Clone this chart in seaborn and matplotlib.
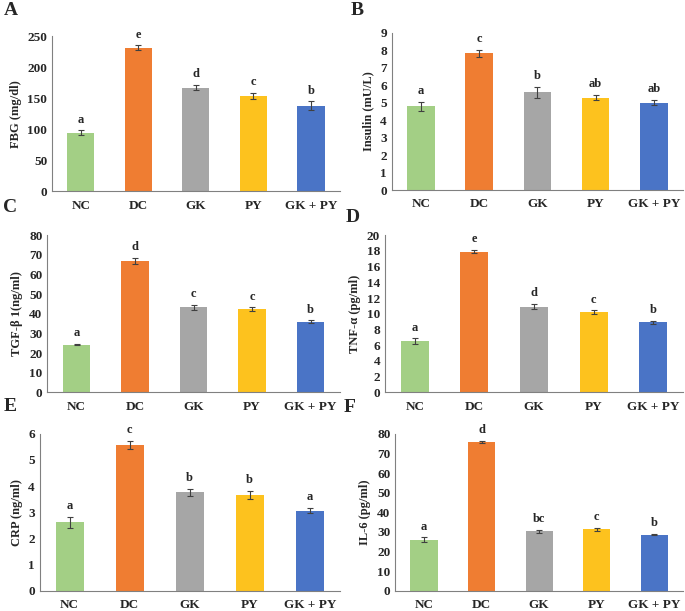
import numpy as np
import pandas as pd
import matplotlib
matplotlib.use("Agg")
import matplotlib.pyplot as plt
import seaborn as sns

# groups
groups = ["NC", "DC", "GK", "PY", "GK + PY"]
bar_colors = ["#a3cf85", "#ef7d32", "#a6a6a6", "#fdc21e", "#4a74c6"]

# panel values
fbg = [94, 231, 167, 154, 138]
fbg_err = [4, 4, 4, 5, 7]
fbg_sig = ["a", "e", "d", "c", "b"]

insulin = [4.8, 7.85, 5.6, 5.3, 5.0]
insulin_err = [0.25, 0.2, 0.3, 0.15, 0.15]
insulin_sig = ["a", "c", "b", "ab", "ab"]

tgf = [24.3, 67, 43.3, 42.2, 36]
tgf_err = [0.4, 1.5, 1.2, 1.0, 0.6]
tgf_sig = ["a", "d", "c", "c", "b"]

tnf = [6.5, 17.9, 10.9, 10.2, 8.9]
tnf_err = [0.35, 0.2, 0.35, 0.25, 0.15]
tnf_sig = ["a", "e", "d", "c", "b"]

crp = [2.62, 5.57, 3.76, 3.66, 3.06]
crp_err = [0.2, 0.15, 0.13, 0.17, 0.1]
crp_sig = ["a", "c", "b", "b", "a"]

il6 = [26, 75.7, 30.3, 31.3, 28.7]
il6_err = [1.2, 0.6, 0.6, 0.7, 0.5]
il6_sig = ["a", "d", "bc", "c", "b"]

sns.set_style("white")
plt.rcParams["font.family"] = ["Liberation Serif", "DejaVu Serif"]
plt.rcParams["font.weight"] = "bold"

fig = plt.figure(figsize=(6.85, 6.11), dpi=100)

# panel: letter, values, errors, letters, ylabel, ymax, ystep, axes rect, letter pos
panels = [
    ("A", fbg, fbg_err, fbg_sig, "FBG (mg/dl)", 250, 50, [0.076, 0.687, 0.420, 0.254], (0.006, 0.982)),
    ("B", insulin, insulin_err, insulin_sig, "Insulin (mU/L)", 9, 1, [0.572, 0.689, 0.425, 0.257], (0.512, 0.983)),
    ("C", tgf, tgf_err, tgf_sig, "TGF-β 1(ng/ml)", 80, 10, [0.069, 0.358, 0.427, 0.257], (0.004, 0.660)),
    ("D", tnf, tnf_err, tnf_sig, "TNF-α (pg/ml)", 20, 2, [0.562, 0.358, 0.435, 0.257], (0.504, 0.644)),
    ("E", crp, crp_err, crp_sig, "CRP (ng/ml)", 6, 1, [0.058, 0.033, 0.438, 0.257], (0.006, 0.335)),
    ("F", il6, il6_err, il6_sig, "IL-6 (pg/ml)", 80, 10, [0.577, 0.033, 0.420, 0.257], (0.502, 0.333)),
]

for letter, vals, errs, sig, ylab, ymax, ystep, rect, lpos in panels:
    ax = fig.add_axes(rect)
    df = pd.DataFrame({"group": groups, "value": vals})
    sns.barplot(data=df, x="group", y="value", hue="group", palette=bar_colors,
                saturation=1, width=0.47, errorbar=None, legend=False, ax=ax,
                edgecolor="none")
    ax.errorbar(range(len(groups)), vals, yerr=errs, fmt="none", ecolor="#404040",
                elinewidth=0.8, capsize=2, capthick=0.8)
    for i, (v, e, s) in enumerate(zip(vals, errs, sig)):
        ax.text(i, v + e + ymax * 0.03, s, ha="center", va="bottom",
                fontsize=9, fontweight="bold")
    ax.set_ylim(0, ymax)
    ax.set_xlim(-0.5, 4.5)
    ax.set_yticks(np.arange(0, ymax + ystep / 2, ystep))
    ax.set_xlabel("")
    ax.set_ylabel(ylab, fontsize=9, fontweight="bold", labelpad=4)
    ax.tick_params(axis="both", length=0, labelsize=9.5)
    ax.tick_params(axis="x", pad=6)
    for lab in ax.get_xticklabels() + ax.get_yticklabels():
        lab.set_fontweight("bold")
    sns.despine(ax=ax)
    ax.spines["left"].set_color("#808080")
    ax.spines["bottom"].set_color("#808080")
    ax.spines["left"].set_linewidth(0.8)
    ax.spines["bottom"].set_linewidth(0.8)
    fig.text(lpos[0], lpos[1], letter, fontsize=14, fontweight="bold", va="center")

fig.savefig("out.png", dpi=100)
